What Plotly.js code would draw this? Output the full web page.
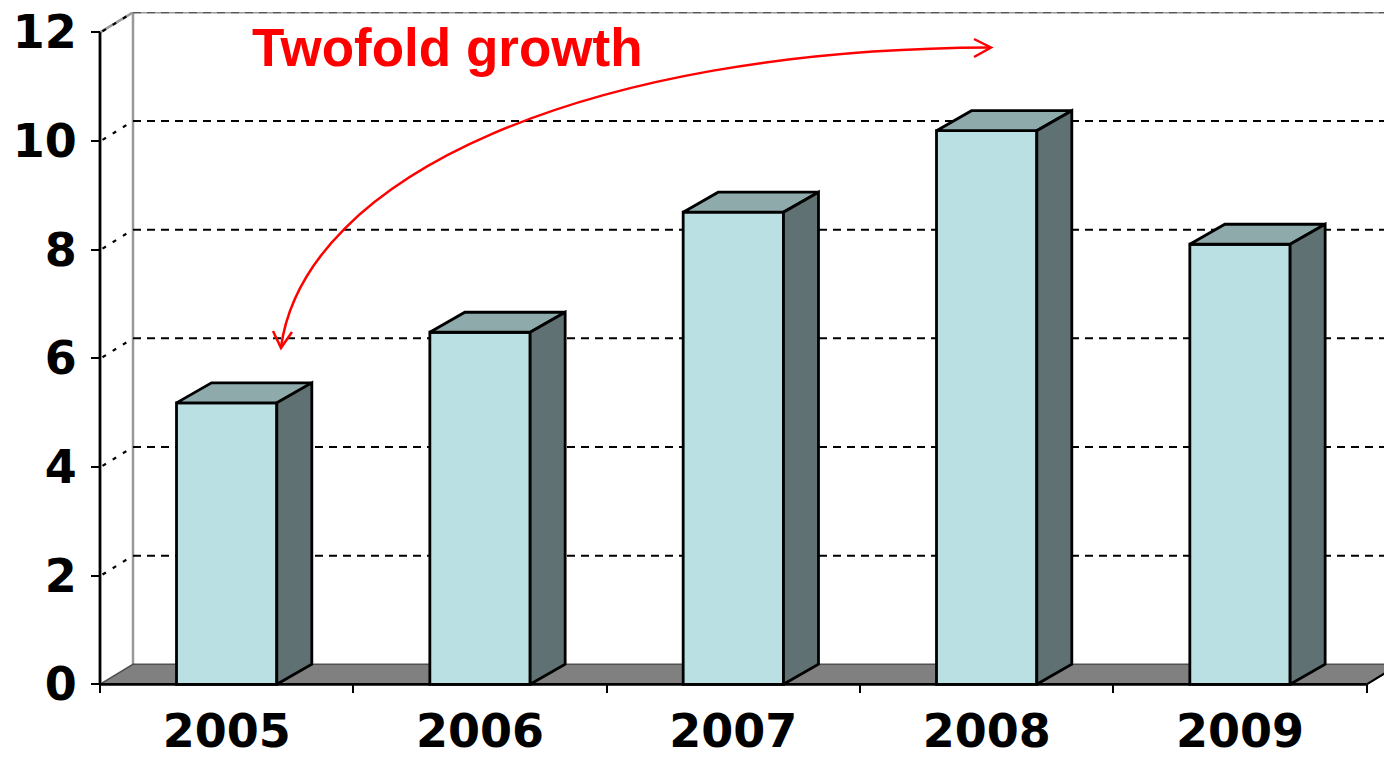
<!DOCTYPE html>
<html>
<head>
<meta charset="utf-8">
<script src="https://cdn.plot.ly/plotly-3.0.1.min.js"></script>
<style>html,body{margin:0;padding:0;background:#fff;}#chart{width:1384px;height:757px;}</style>
</head>
<body>
<div id="chart"></div>
<script>
// ---- data ----
const years = ['2005', '2006', '2007', '2008', '2009'];
const values = [5.18, 6.48, 8.69, 10.19, 8.1];
const yTicks = [0, 2, 4, 6, 8, 10, 12];
const annotationText = 'Twofold growth';

// ---- geometry / style ----
const W = 1384, H = 757;
const M = {l: 80, r: 0, t: 12, b: 57};
const pxPerX = 253.33, pxPerY = 54.33;
const x0px = 100, y0px = 684.3;
const xRange = [(M.l - x0px) / pxPerX, (W - M.r - x0px) / pxPerX];
const yRange = [-(H - M.b - y0px) / pxPerY, (y0px - M.t) / pxPerY];
const px2x = p => (p - x0px) / pxPerX;
const py2y = p => (y0px - p) / pxPerY;

const barHalf = 0.198;
const depthX = 35 / pxPerX, depthY = 20 / pxPerY;
const wallDX = 33 / pxPerX, wallDY = 20 / pxPerY;
const nCat = years.length;
const centers = years.map((_, i) => i + 0.5);

const cFront = '#BAE0E3', cTop = '#8FAAAB', cSide = '#5F7172', cFloor = '#808080';
const edge = {color: '#000', width: 2.8};

const traces = [];
traces.push({
  type: 'bar', x: centers, y: values, width: 2 * barHalf,
  marker: {color: cFront, line: edge}, hoverinfo: 'skip', showlegend: false
});
values.forEach((v, i) => {
  const a = centers[i] - barHalf, b = centers[i] + barHalf;
  traces.push({
    type: 'scatter', mode: 'lines', fill: 'toself', fillcolor: cTop, line: edge,
    x: [a, b, b + depthX, a + depthX, a], y: [v, v, v + depthY, v + depthY, v],
    hoverinfo: 'skip', showlegend: false
  });
  traces.push({
    type: 'scatter', mode: 'lines', fill: 'toself', fillcolor: cSide, line: edge,
    x: [b, b, b + depthX, b + depthX, b], y: [0, v, v + depthY, depthY, 0],
    hoverinfo: 'skip', showlegend: false
  });
});

const yTop = yTicks[yTicks.length - 1];
const shapes = [];
const ln = (xa, ya, xb, yb, line, layer) => ({type: 'line', xref: 'x', yref: 'y', x0: xa, y0: ya, x1: xb, y1: yb, line, layer: layer || 'below'});
// back wall edges
shapes.push(ln(wallDX, wallDY, wallDX, yTop + wallDY, {color: '#999', width: 2.5}));
shapes.push(ln(wallDX, yTop + wallDY, xRange[1] + 1, yTop + wallDY, {color: '#999', width: 2.5}));
shapes.push(ln(0, yTop, wallDX, yTop + wallDY, {color: '#999', width: 2.5}));
// gridlines on back wall + dotted left-wall connectors
yTicks.forEach(t => {
  if (t === 0) return;
  shapes.push(ln(wallDX, t + wallDY, xRange[1] + 1, t + wallDY, {color: t === yTop ? '#555' : '#000', width: 2, dash: '8px,6px'}));
  shapes.push(ln(0.01, t + 0.02, wallDX, t + wallDY, {color: '#000', width: 2.2, dash: '4px,8px'}));
});
// floor
shapes.push({type: 'path', xref: 'x', yref: 'y', layer: 'below',
  path: `M0,0 L${nCat},0 L${nCat + wallDX},${wallDY} L${wallDX},${wallDY} Z`,
  fillcolor: cFloor, line: {color: '#505050', width: 1.5}});
shapes.push(ln(0, 0, nCat, 0, {color: '#000', width: 2.8}));
shapes.push(ln(nCat, 0, nCat + wallDX, wallDY, {color: '#000', width: 2}));
// front value axis
shapes.push(ln(0, 0, 0, yTop, {color: '#000', width: 2.8}));

// curved double arrow (annotation)
const P = (px, py) => `${px2x(px)},${py2y(py)}`;
const red = {color: '#FF0000', width: 2.5};
shapes.push({type: 'path', xref: 'x', yref: 'y', layer: 'above', line: red,
  path: `M${P(990, 47.5)} C${P(585, 49)} ${P(305, 176)} ${P(281, 347)}`});
shapes.push({type: 'path', xref: 'x', yref: 'y', layer: 'above', line: red,
  path: `M${P(974, 39)} L${P(991, 47.5)} L${P(974, 57)}`});
shapes.push({type: 'path', xref: 'x', yref: 'y', layer: 'above', line: red,
  path: `M${P(273, 331)} L${P(281, 348)} L${P(292, 332)}`});

const tickFont = {family: 'DejaVu Sans', size: 46, weight: 'bold', color: '#000'};

const layout = {
  width: W, height: H, margin: M,
  paper_bgcolor: '#fff', plot_bgcolor: '#fff', showlegend: false,
  xaxis: {
    range: xRange, anchor: 'free', position: (H - M.b - y0px) / (H - M.t - M.b),
    tickmode: 'array', tickvals: centers, ticktext: years, ticks: '',
    tickfont: tickFont, ticklabelstandoff: 16,
    minor: {tick0: 0, dtick: 1, ticks: 'outside', ticklen: 8, tickwidth: 2, tickcolor: '#000', showgrid: false},
    showgrid: false, zeroline: false, showline: false, fixedrange: true
  },
  yaxis: {
    range: yRange, anchor: 'free', position: (x0px - M.l) / (W - M.l - M.r),
    tickmode: 'array', tickvals: yTicks, ticks: 'outside', ticklen: 9, tickwidth: 2, tickcolor: '#000',
    tickfont: tickFont, ticklabelstandoff: 5,
    showgrid: false, zeroline: false, showline: false, fixedrange: true
  },
  shapes,
  annotations: [{
    xref: 'x', yref: 'y', x: px2x(447.5), y: py2y(47), xanchor: 'center', yanchor: 'middle',
    text: annotationText, showarrow: false,
    font: {family: 'Liberation Sans, Arial', size: 53, weight: 'bold', color: '#FF0000'}
  }]
};

Plotly.newPlot('chart', traces, layout, {displayModeBar: false, staticPlot: true});
</script>
</body>
</html>
